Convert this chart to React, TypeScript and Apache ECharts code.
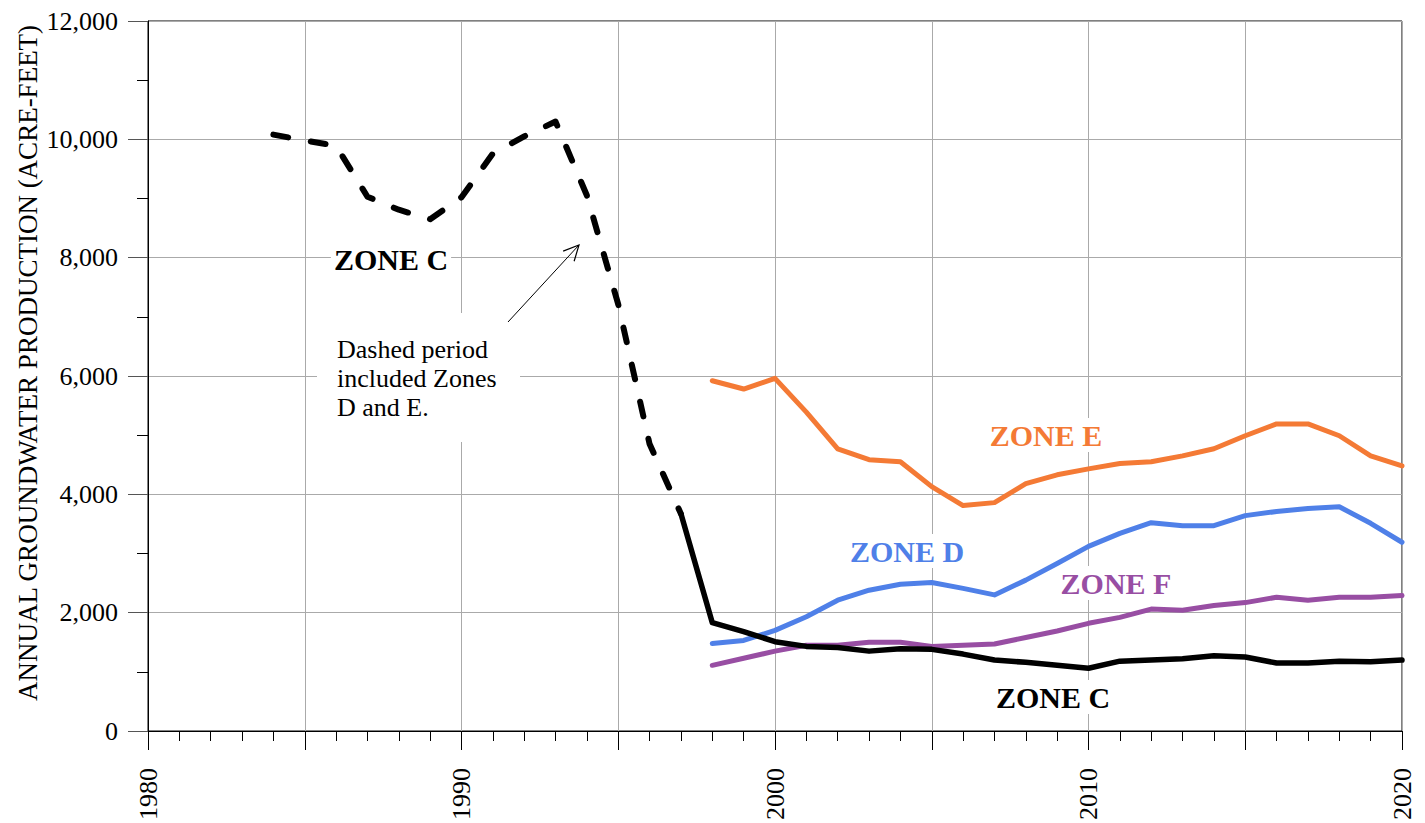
import React, { useEffect, useRef } from "react";
import * as echarts from "echarts";

// Zone C, combined record (dashed period)
const zoneCEarlyYears = [1984, 1985, 1986, 1987, 1988, 1989, 1990, 1991, 1992, 1993, 1994, 1995, 1996, 1997];
const zoneCEarly = [10080, 9980, 9890, 9030, 8810, 8650, 9020, 9760, 10050, 10300, 9050, 7210, 4850, 3670];

// Zone-by-zone record
const zoneYears = [
  1998, 1999, 2000, 2001, 2002, 2003, 2004, 2005, 2006, 2007, 2008, 2009,
  2010, 2011, 2012, 2013, 2014, 2015, 2016, 2017, 2018, 2019, 2020,
];
const zoneC = [1830, 1680, 1510, 1430, 1410, 1350, 1390, 1380, 1300, 1200, 1160, 1110, 1060, 1180, 1200, 1220, 1270, 1250, 1150, 1150, 1180, 1170, 1200];
const zoneD = [1480, 1530, 1700, 1930, 2210, 2380, 2480, 2510, 2410, 2300, 2550, 2830, 3120, 3340, 3520, 3470, 3470, 3640, 3710, 3760, 3790, 3510, 3190];
const zoneE = [5920, 5780, 5960, 5390, 4770, 4585, 4550, 4130, 3810, 3860, 4180, 4330, 4430, 4520, 4550, 4650, 4770, 4990, 5190, 5190, 4990, 4650, 4480];
const zoneF = [1110, 1230, 1350, 1450, 1450, 1500, 1500, 1430, 1450, 1470, 1580, 1690, 1820, 1920, 2060, 2040, 2120, 2170, 2260, 2210, 2260, 2260, 2290];

const yAxisTitle = "ANNUAL GROUNDWATER PRODUCTION (ACRE-FEET)";
const noteLines = ["Dashed period", "included Zones", "D and E."];

const SERIF = "Liberation Serif";
const ORANGE = "#F47A35";
const BLUE = "#4F80E8";
const PURPLE = "#984EA3";

const pairs = (xs: number[], ys: number[]) => xs.map((x, i) => [x, ys[i]]);

function zoneLabel(text: string, color: string, x: number, y: number) {
  return {
    type: "text",
    x,
    y,
    z: 1,
    style: {
      text,
      fill: color,
      fontFamily: SERIF,
      fontSize: 30,
      fontWeight: "bold",
      align: "center",
      verticalAlign: "middle",
      backgroundColor: "#fff",
      padding: [2, 3],
    },
  };
}

function arrow(x1: number, y1: number, x2: number, y2: number) {
  const dx = x2 - x1;
  const dy = y2 - y1;
  const len = Math.hypot(dx, dy);
  const ux = dx / len;
  const uy = dy / len;
  const head = 17;
  const ang = (26 * Math.PI) / 180;
  const wing = (s: number) => {
    const c = Math.cos(s * ang);
    const n = Math.sin(s * ang);
    const rx = ux * c - uy * n;
    const ry = ux * n + uy * c;
    return [x2 - head * rx, y2 - head * ry];
  };
  return [
    { type: "line", z: 3, shape: { x1, y1, x2, y2 }, style: { stroke: "#000", lineWidth: 1 } },
    {
      type: "polyline",
      z: 3,
      shape: { points: [wing(1), [x2, y2], wing(-1)] },
      style: { stroke: "#000", lineWidth: 1.2, fill: null },
    },
  ];
}

export default function App() {
  const ref = useRef<HTMLDivElement>(null);

  useEffect(() => {
    if (!ref.current) return;
    const chart = echarts.init(ref.current, null, { renderer: "svg" });

    const lineBase = {
      type: "line",
      showSymbol: false,
      symbol: "none",
      smooth: false,
      z: 5,
    };

    chart.setOption({
      animation: false,
      backgroundColor: "#fff",
      textStyle: { fontFamily: SERIF },
      grid: {
        left: 148,
        right: 23,
        top: 21,
        bottom: 90,
        show: true,
        borderColor: "#000",
        borderWidth: 1,
        backgroundColor: "transparent",
      },
      xAxis: {
        type: "value",
        min: 1980,
        max: 2020,
        interval: 5,
        axisLine: { show: true, lineStyle: { color: "#000", width: 1 } },
        axisTick: { show: true, inside: false, length: 19, lineStyle: { color: "#000", width: 1 } },
        minorTick: { show: true, splitNumber: 5, length: 10, lineStyle: { color: "#000", width: 1 } },
        splitLine: { show: true, lineStyle: { color: "#aaaaaa", width: 1 } },
        axisLabel: {
          rotate: 90,
          margin: 37,
          color: "#000",
          fontFamily: SERIF,
          fontSize: 26,
          formatter: (v: number) => (v % 10 === 0 ? String(v) : ""),
        },
      },
      yAxis: {
        type: "value",
        min: 0,
        max: 12000,
        interval: 2000,
        axisLine: { show: true, lineStyle: { color: "#000", width: 1 } },
        axisTick: { show: true, inside: false, length: 20, lineStyle: { color: "#555", width: 1 } },
        minorTick: { show: true, splitNumber: 2, length: 11, lineStyle: { color: "#000", width: 1 } },
        splitLine: { show: true, lineStyle: { color: "#aaaaaa", width: 1 } },
        axisLabel: {
          margin: 30,
          color: "#000",
          fontFamily: SERIF,
          fontSize: 26,
          formatter: (v: number) => v.toLocaleString("en-US"),
        },
      },
      series: [
        {
          ...lineBase,
          name: "Zone E",
          data: pairs(zoneYears, zoneE),
          lineStyle: { color: ORANGE, width: 5, cap: "round", join: "round" },
        },
        {
          ...lineBase,
          name: "Zone D",
          data: pairs(zoneYears, zoneD),
          lineStyle: { color: BLUE, width: 5, cap: "round", join: "round" },
        },
        {
          ...lineBase,
          name: "Zone F",
          data: pairs(zoneYears, zoneF),
          lineStyle: { color: PURPLE, width: 5, cap: "round", join: "round" },
        },
        {
          ...lineBase,
          name: "Zone C (combined)",
          data: pairs(zoneCEarlyYears, zoneCEarly),
          lineStyle: { color: "#000", width: 6, type: [15, 23], cap: "round", join: "round" },
        },
        {
          ...lineBase,
          name: "Zone C",
          data: [[1997, zoneCEarly[zoneCEarly.length - 1]], ...pairs(zoneYears, zoneC)],
          lineStyle: { color: "#000", width: 5.5, cap: "round", join: "round" },
        },
      ],
      graphic: [
        {
          type: "text",
          x: 28,
          y: 363,
          rotation: Math.PI / 2,
          style: {
            text: yAxisTitle,
            fill: "#000",
            fontFamily: SERIF,
            fontSize: 27,
            align: "center",
            verticalAlign: "middle",
          },
        },
        zoneLabel("ZONE C", "#000", 391, 259),
        zoneLabel("ZONE E", ORANGE, 1046, 435),
        zoneLabel("ZONE D", BLUE, 907, 551),
        zoneLabel("ZONE F", PURPLE, 1116, 583),
        zoneLabel("ZONE C", "#000", 1053, 697),
        {
          type: "rect",
          z: 1,
          shape: { x: 317, y: 313, width: 203, height: 129 },
          style: { fill: "#fff" },
        },
        ...noteLines.map((t, i) => ({
          type: "text",
          z: 2,
          x: 337,
          y: 349 + i * 29,
          style: {
            text: t,
            fill: "#000",
            fontFamily: SERIF,
            fontSize: 26,
            align: "left",
            verticalAlign: "middle",
          },
        })),
        ...arrow(508, 322, 579, 245),
      ],
    });

    return () => chart.dispose();
  }, []);

  return (
    <div
      ref={ref}
      style={{ position: "fixed", left: 0, top: 0, width: 1425, height: 823, background: "#fff" }}
    />
  );
}
